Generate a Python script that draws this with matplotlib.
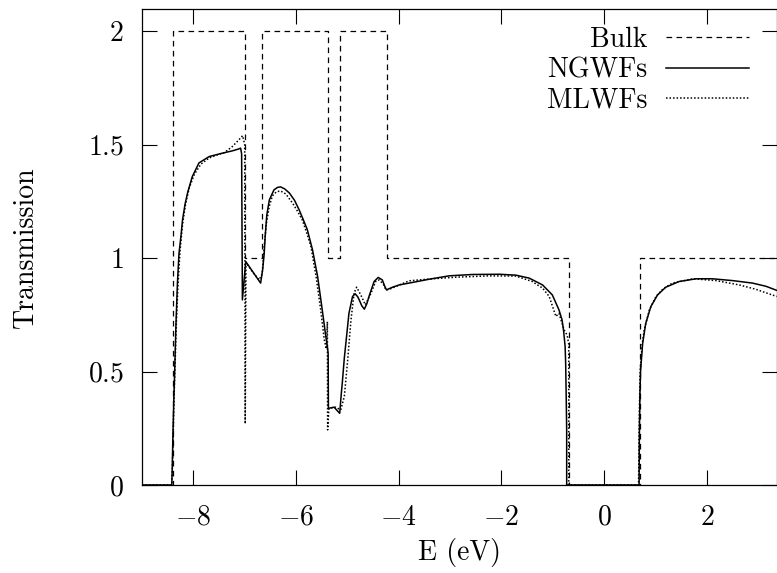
import matplotlib
matplotlib.use("Agg")
import matplotlib.pyplot as plt
from matplotlib.ticker import FixedLocator, FuncFormatter

plt.rcParams['font.family'] = 'cmr10'
plt.rcParams['mathtext.fontset'] = 'cm'
plt.rcParams['axes.formatter.use_mathtext'] = True
plt.rcParams['font.size'] = 20

# bulk transmission: step levels between band edges (eV)
bulk_edges = [-9.0, -8.39, -6.99, -6.67, -5.37, -5.15, -4.22, -0.68, 0.695, 3.36]
bulk_levels = [0, 2, 1, 2, 1, 2, 1, 0, 1, 1]

# transmission through the device, NGWF basis
ngwf_e = [-9.0, -8.42, -8.41, -8.40, -8.38, -8.37, -8.34, -8.31, -8.28, -8.24,
          -8.21, -8.16, -8.11, -8.02, -7.89, -7.69, -7.43, -7.24, -7.12, -7.08,
          -7.06, -7.045, -6.98, -6.69, -6.65, -6.62, -6.60, -6.57, -6.52, -6.43,
          -6.36, -6.30, -6.22, -6.13, -6.03, -5.94, -5.86, -5.78, -5.68, -5.58,
          -5.49, -5.42, -5.39, -5.375, -5.37, -5.26, -5.15, -5.12, -5.10, -5.06,
          -5.03, -4.97, -4.90, -4.85, -4.80, -4.77, -4.72, -4.67, -4.62, -4.58,
          -4.48, -4.40, -4.32, -4.28, -4.24, -4.12, -3.99, -3.80, -3.41, -3.02,
          -2.56, -2.04, -1.72, -1.46, -1.20, -1.01, -0.88, -0.82, -0.79, -0.76,
          -0.75, -0.74, -0.73, -0.73, 0.68, 0.685, 0.695, 0.71, 0.75, 0.81,
          0.91, 1.04, 1.20, 1.46, 1.79, 2.11, 2.50, 2.89, 3.15, 3.36]
ngwf_t = [0.0, 0.0, 0.08, 0.20, 0.38, 0.45, 0.70, 0.89, 1.02, 1.10,
          1.17, 1.24, 1.29, 1.36, 1.42, 1.448, 1.463, 1.473, 1.481, 1.485,
          1.46, 0.816, 0.985, 0.89, 0.95, 1.022, 1.10, 1.19, 1.257, 1.301,
          1.312, 1.314, 1.305, 1.287, 1.255, 1.213, 1.17, 1.125, 1.037, 0.919,
          0.772, 0.654, 0.61, 0.58, 0.338, 0.343, 0.316, 0.40, 0.449, 0.56,
          0.625, 0.757, 0.831, 0.843, 0.83, 0.816, 0.79, 0.775, 0.80, 0.831,
          0.897, 0.915, 0.904, 0.88, 0.86, 0.872, 0.882, 0.89, 0.907, 0.922,
          0.928, 0.929, 0.925, 0.912, 0.882, 0.838, 0.772, 0.728, 0.68, 0.61,
          0.537, 0.40, 0.243, 0.0, 0.0, 0.2, 0.39, 0.507, 0.625, 0.713,
          0.787, 0.838, 0.872, 0.897, 0.909, 0.909, 0.901, 0.89, 0.876, 0.858]

# same system, MLWF basis
mlwf_e = [-9.0, -8.42, -8.40, -8.38, -8.36, -8.33, -8.30, -8.26, -8.21, -8.15,
          -8.08, -7.98, -7.85, -7.69, -7.50, -7.40, -7.25, -7.12, -7.04, -7.00,
          -6.99, -6.975, -6.85, -6.72, -6.66, -6.62, -6.58, -6.52, -6.46, -6.38,
          -6.30, -6.20, -6.07, -5.98, -5.88, -5.79, -5.71, -5.61, -5.52, -5.45,
          -5.41, -5.39, -5.385, -5.36, -5.23, -5.13, -5.06, -5.00, -4.93, -4.87,
          -4.82, -4.74, -4.65, -4.54, -4.45, -4.38, -4.30, -4.25, -4.19, -3.80,
          -3.40, -2.89, -2.23, -1.72, -1.40, -1.20, -1.07, -0.94, -0.88, -0.78,
          -0.72, -0.69, -0.69, 0.67, 0.68, 0.70, 0.74, 0.78, 0.88, 1.01,
          1.15, 1.33, 1.73, 2.18, 2.63, 2.95, 3.36]
mlwf_t = [0.0, 0.0, 0.15, 0.35, 0.50, 0.72, 0.88, 1.03, 1.15, 1.24,
          1.31, 1.37, 1.415, 1.442, 1.458, 1.465, 1.49, 1.52, 1.54, 1.50,
          0.27, 0.98, 0.94, 0.904, 0.93, 1.05, 1.15, 1.23, 1.275, 1.293,
          1.296, 1.283, 1.243, 1.21, 1.169, 1.11, 1.051, 0.919, 0.772, 0.64,
          0.60, 0.72, 0.243, 0.338, 0.343, 0.331, 0.39, 0.537, 0.728, 0.846,
          0.872, 0.838, 0.794, 0.846, 0.897, 0.904, 0.885, 0.86, 0.862, 0.90,
          0.908, 0.916, 0.922, 0.921, 0.897, 0.868, 0.831, 0.743, 0.757, 0.684,
          0.66, 0.62, 0.0, 0.0, 0.25, 0.5, 0.62, 0.684, 0.772, 0.831,
          0.865, 0.89, 0.909, 0.901, 0.882, 0.863, 0.831]

x_ticks = [-8, -6, -4, -2, 0, 2]
y_ticks = [0, 0.5, 1, 1.5, 2]

fig = plt.figure(figsize=(7.77, 5.73), dpi=100)
ax = fig.add_axes([142 / 777, 88 / 573, 634.5 / 777, 476.4 / 573])

ax.step(bulk_edges, bulk_levels, where='post', color='black', lw=0.9,
        dashes=(4.5, 3.5), label='Bulk')
ax.plot(ngwf_e, ngwf_t, color='black', lw=1.1, label='NGWFs')
ax.plot(mlwf_e, mlwf_t, color='black', lw=1.1, dashes=(1.0, 1.3), label='MLWFs')

ax.set_xlim(-9, 3.356)
ax.set_ylim(0, 2.1)
ax.xaxis.set_major_locator(FixedLocator(x_ticks))
ax.yaxis.set_major_locator(FixedLocator(y_ticks))
fmt = FuncFormatter(lambda v, p: '$%g$' % v)
ax.xaxis.set_major_formatter(fmt)
ax.yaxis.set_major_formatter(fmt)
ax.tick_params(direction='in', length=10.8, width=0.8, top=True, right=True,
               labelsize=20)
ax.tick_params(axis='x', pad=14)
ax.tick_params(axis='y', pad=13)
for s in ax.spines.values():
    s.set_linewidth(0.9)

ax.set_xlabel('E (eV)', fontsize=20)
ax.set_ylabel('Transmission', fontsize=20)
ax.xaxis.set_label_coords(0.5, -0.112)
ax.yaxis.set_label_coords(-0.163, 0.5)

ax.legend(loc='upper right', bbox_to_anchor=(0.9567, 0.962), frameon=False,
          markerfirst=False, borderpad=0, borderaxespad=0, handlelength=3.0,
          handletextpad=0.65, labelspacing=0.14, fontsize=20)

fig.savefig('out.png', dpi=100)
